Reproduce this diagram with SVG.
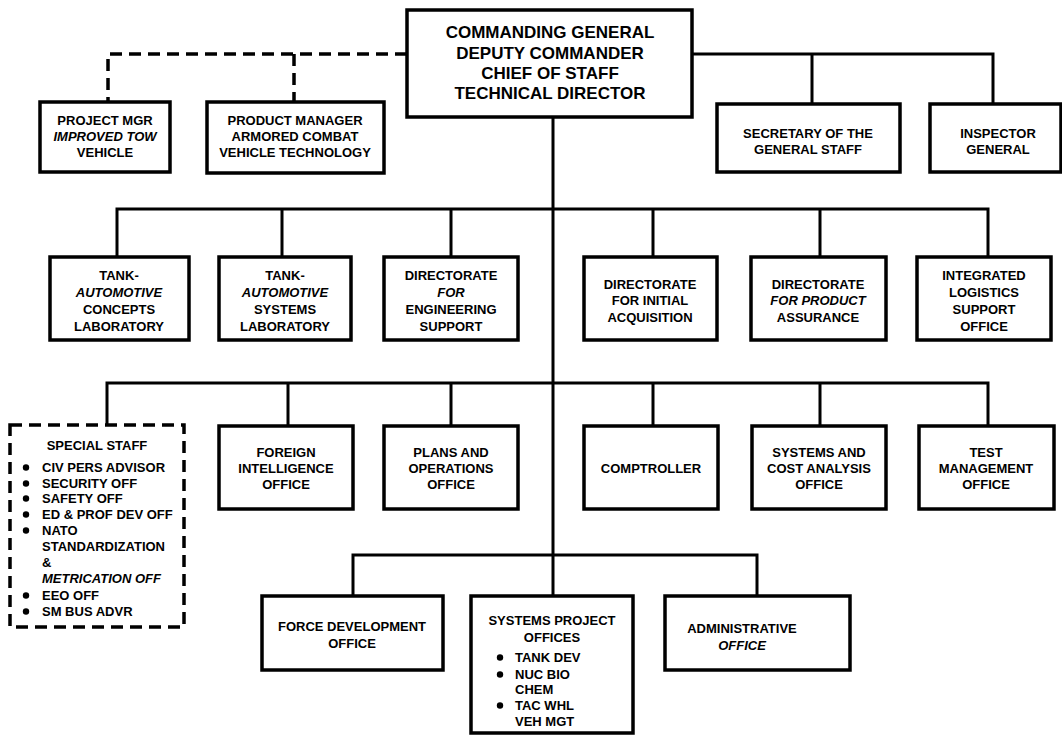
<svg xmlns="http://www.w3.org/2000/svg" width="1062" height="736" viewBox="0 0 1062 736">
<style>
.box{fill:#fff;stroke:#000;stroke-width:3.5}
.dbox{fill:#fff;stroke:#000;stroke-width:3.5;stroke-dasharray:12 7}
.ln{fill:none;stroke:#000;stroke-width:3}
.dln{fill:none;stroke:#000;stroke-width:3.5;stroke-dasharray:12 7}
text{font-family:"Liberation Sans",Arial,sans-serif;font-weight:bold;font-size:13px;fill:#000}
.c{text-anchor:middle}
.big{font-size:17px}
.i{font-style:italic}
.dot{fill:#000}
</style>
<rect width="1062" height="736" fill="#fff"/>
<g id="connectors">
<path class="dln" d="M407 54 H108 V102 M294 54 V102"/>
<path class="ln" d="M692 54 H993 V104 M812 54 V104"/>
<path class="ln" d="M553 117 V596"/>
<path class="ln" d="M117 257 V209 H988 V257 M282 209 V257 M451 209 V257 M653 209 V257 M820 209 V257"/>
<path class="ln" d="M107 425 V383 H988 V426 M288 383 V426 M451 383 V426 M653 383 V426 M820 383 V426"/>
<path class="ln" d="M353 596 V555 H757 V596"/>
</g>
<g id="cg"><rect class="box" x="407" y="10" width="285" height="107"/>
<text class="c big" x="550"><tspan x="550" y="38">COMMANDING GENERAL</tspan><tspan x="550" y="59">DEPUTY COMMANDER</tspan><tspan x="550" y="79">CHIEF OF STAFF</tspan><tspan x="550" y="99">TECHNICAL DIRECTOR</tspan></text></g>
<g id="pm-tow"><rect class="box" x="40" y="102" width="130" height="70"/>
<text class="c"><tspan x="105" y="125">PROJECT MGR</tspan><tspan x="105" y="141" class="i">IMPROVED TOW</tspan><tspan x="105" y="157">VEHICLE</tspan></text></g>
<g id="pm-acvt"><rect class="box" x="207" y="102" width="177" height="71"/>
<text class="c"><tspan x="295" y="125">PRODUCT MANAGER</tspan><tspan x="295" y="141">ARMORED COMBAT</tspan><tspan x="295" y="157">VEHICLE TECHNOLOGY</tspan></text></g>
<g id="sgs"><rect class="box" x="717" y="104" width="183" height="68"/>
<text class="c"><tspan x="808" y="138">SECRETARY OF THE</tspan><tspan x="808" y="154">GENERAL STAFF</tspan></text></g>
<g id="ig"><rect class="box" x="930" y="104" width="131" height="68"/>
<text class="c"><tspan x="998" y="138">INSPECTOR</tspan><tspan x="998" y="154">GENERAL</tspan></text></g>

<g id="tacl"><rect class="box" x="50" y="257" width="139" height="83"/>
<text class="c"><tspan x="119" y="280">TANK-</tspan><tspan x="119" y="297" class="i">AUTOMOTIVE</tspan><tspan x="119" y="314">CONCEPTS</tspan><tspan x="119" y="331">LABORATORY</tspan></text></g>
<g id="tasl"><rect class="box" x="219" y="257" width="132" height="83"/>
<text class="c"><tspan x="285" y="280">TANK-</tspan><tspan x="285" y="297" class="i">AUTOMOTIVE</tspan><tspan x="285" y="314">SYSTEMS</tspan><tspan x="285" y="331">LABORATORY</tspan></text></g>
<g id="des"><rect class="box" x="384" y="257" width="134" height="83"/>
<text class="c"><tspan x="451" y="280">DIRECTORATE</tspan><tspan x="451" y="297" class="i">FOR</tspan><tspan x="451" y="314">ENGINEERING</tspan><tspan x="451" y="331">SUPPORT</tspan></text></g>
<g id="dia"><rect class="box" x="584" y="257" width="133" height="83"/>
<text class="c"><tspan x="650" y="289">DIRECTORATE</tspan><tspan x="650" y="305">FOR INITIAL</tspan><tspan x="650" y="322">ACQUISITION</tspan></text></g>
<g id="dpa"><rect class="box" x="751" y="257" width="135" height="83"/>
<text class="c"><tspan x="818" y="289">DIRECTORATE</tspan><tspan x="818" y="305" class="i">FOR PRODUCT</tspan><tspan x="818" y="322">ASSURANCE</tspan></text></g>
<g id="ilso"><rect class="box" x="917" y="257" width="134" height="83"/>
<text class="c"><tspan x="984" y="280">INTEGRATED</tspan><tspan x="984" y="297">LOGISTICS</tspan><tspan x="984" y="314">SUPPORT</tspan><tspan x="984" y="331">OFFICE</tspan></text></g>

<g id="special-staff"><rect class="dbox" x="10" y="425" width="174" height="202"/>
<text class="c" x="97" y="450">SPECIAL STAFF</text>
<circle class="dot" cx="26" cy="467.5" r="3.2"/><circle class="dot" cx="26" cy="483.5" r="3.2"/><circle class="dot" cx="26" cy="498.5" r="3.2"/><circle class="dot" cx="26" cy="514.5" r="3.2"/><circle class="dot" cx="26" cy="530.5" r="3.2"/><circle class="dot" cx="26" cy="595.5" r="3.2"/><circle class="dot" cx="26" cy="611.5" r="3.2"/>
<text><tspan x="42" y="472">CIV PERS ADVISOR</tspan><tspan x="42" y="488">SECURITY OFF</tspan><tspan x="42" y="503">SAFETY OFF</tspan><tspan x="42" y="519">ED &amp; PROF DEV OFF</tspan><tspan x="42" y="535">NATO</tspan><tspan x="42" y="551">STANDARDIZATION</tspan><tspan x="42" y="567">&amp;</tspan><tspan x="42" y="583" class="i">METRICATION OFF</tspan><tspan x="42" y="600">EEO OFF</tspan><tspan x="42" y="616">SM BUS ADVR</tspan></text></g>
<g id="fio"><rect class="box" x="219" y="426" width="134" height="83"/>
<text class="c"><tspan x="286" y="457">FOREIGN</tspan><tspan x="286" y="473">INTELLIGENCE</tspan><tspan x="286" y="489">OFFICE</tspan></text></g>
<g id="poo"><rect class="box" x="384" y="426" width="134" height="83"/>
<text class="c"><tspan x="451" y="457">PLANS AND</tspan><tspan x="451" y="473">OPERATIONS</tspan><tspan x="451" y="489">OFFICE</tspan></text></g>
<g id="comptroller"><rect class="box" x="584" y="426" width="134" height="83"/>
<text class="c" x="651" y="473">COMPTROLLER</text></g>
<g id="scao"><rect class="box" x="752" y="426" width="134" height="83"/>
<text class="c"><tspan x="819" y="457">SYSTEMS AND</tspan><tspan x="819" y="473">COST ANALYSIS</tspan><tspan x="819" y="489">OFFICE</tspan></text></g>
<g id="tmo"><rect class="box" x="919" y="426" width="135" height="83"/>
<text class="c"><tspan x="986" y="457">TEST</tspan><tspan x="986" y="473">MANAGEMENT</tspan><tspan x="986" y="489">OFFICE</tspan></text></g>

<g id="fdo"><rect class="box" x="262" y="596" width="181" height="74"/>
<text class="c"><tspan x="352" y="631">FORCE DEVELOPMENT</tspan><tspan x="352" y="648">OFFICE</tspan></text></g>
<g id="spo"><rect class="box" x="471" y="596" width="162" height="137"/>
<text class="c"><tspan x="552" y="625">SYSTEMS PROJECT</tspan><tspan x="552" y="642">OFFICES</tspan></text>
<circle class="dot" cx="500" cy="657.5" r="3.2"/><circle class="dot" cx="500" cy="674.5" r="3.2"/><circle class="dot" cx="500" cy="705.5" r="3.2"/>
<text><tspan x="515" y="662">TANK DEV</tspan><tspan x="515" y="679">NUC BIO</tspan><tspan x="515" y="694">CHEM</tspan><tspan x="515" y="710">TAC WHL</tspan><tspan x="515" y="726">VEH MGT</tspan></text></g>
<g id="ao"><rect class="box" x="665" y="596" width="185" height="74"/>
<text class="c"><tspan x="742" y="633">ADMINISTRATIVE</tspan><tspan x="742" y="650" class="i">OFFICE</tspan></text></g>
</svg>
